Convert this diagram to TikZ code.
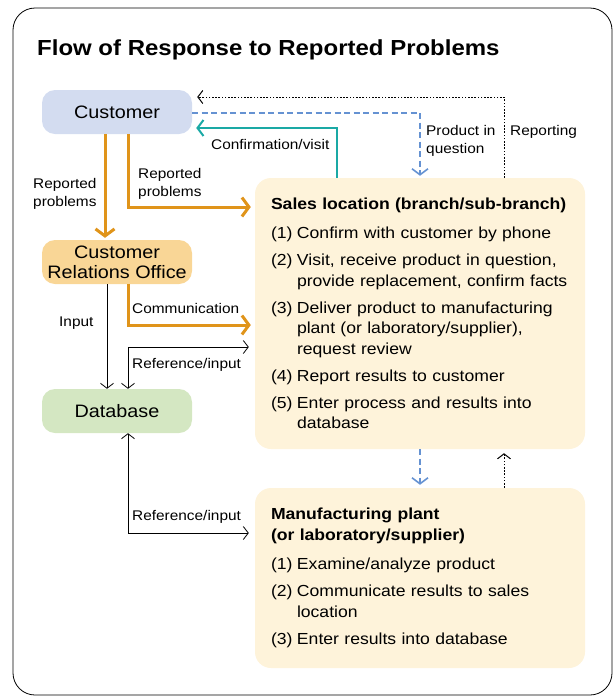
\documentclass[tikz,border=0pt]{standalone}
\usepackage{fontspec}
\setmainfont{Liberation Sans}[FakeStretch=1.1]
\usetikzlibrary{arrows.meta,positioning}
\definecolor{custfill}{HTML}{D3DCF0}
\definecolor{crofill}{HTML}{F9D696}
\definecolor{dbfill}{HTML}{D4E7C2}
\definecolor{boxfill}{HTML}{FEF3DA}
\definecolor{flowor}{HTML}{E0941A}
\definecolor{flowteal}{HTML}{1AA9A5}
\definecolor{flowblue}{HTML}{6592D2}
\newcommand{\numline}[2]{\par\hangindent=26pt\hangafter=1\noindent\makebox[26pt][l]{#1}#2}
\tikzset{
  party/.style={rounded corners=13pt, minimum width=150pt, minimum height=44pt,
    inner sep=0pt, align=center, font=\fontsize{18}{20}\selectfont},
  stepbox/.style={fill=boxfill, rounded corners=16pt, minimum width=330pt,
    text width=298pt, inner xsep=16pt, inner ysep=0pt,
    font=\fontsize{16}{20.5}\selectfont\setlength{\parskip}{6.5pt}\raggedright},
  lbl/.style={anchor=west, align=left, inner sep=0pt, font=\fontsize{14}{18.5}\selectfont},
  orflow/.style={draw=flowor, line width=3pt, -{Straight Barb[length=7pt,width=19pt]}},
  thinflow/.style={line width=0.8pt, -{Straight Barb[length=5pt,width=13pt]}},
  twoflow/.style={line width=0.8pt, {Straight Barb[length=5pt,width=13pt]}-{Straight Barb[length=5pt,width=13pt]}},
  tealflow/.style={draw=flowteal, line width=2pt, -{Straight Barb[length=6pt,width=16pt]}},
  blueflow/.style={draw=flowblue, line width=1.6pt, dash pattern=on 6pt off 3.5pt, -{Straight Barb[length=6pt,width=16pt]}},
  dotflow/.style={line width=1pt, dash pattern=on 1.6pt off 1.6pt, -{Straight Barb[length=5pt,width=13pt]}}
}
\begin{document}
\begin{tikzpicture}[x=1pt, y=-1pt]
  \useasboundingbox (0,0) rectangle (616,697);
  \draw[rounded corners=22pt, line width=0.8pt] (13,8) rectangle (612,695);
  \node (title) [anchor=west, inner sep=0pt, font=\fontsize{21.8}{24}\selectfont\bfseries]
    at (37,50) {Flow of Response to Reported Problems};

  % parties on the left
  \node (cust) [party, fill=custfill] at (117,112) {Customer};
  \node (cro) [party, fill=crofill] at (117,262) {Customer\\Relations Office};
  \node (db) [party, fill=dbfill] at (117,411) {Database};

  % boxes on the right
  \node (sales) [stepbox, minimum height=271pt] at (420,313.5) {%
    {\bfseries Sales location (branch/sub-branch)\par}\vspace{2.5pt}
    \numline{(1)}{Confirm with customer by phone}
    \numline{(2)}{Visit, receive product in question,\newline provide replacement, confirm facts}
    \numline{(3)}{Deliver product to manufacturing\newline plant (or laboratory/supplier),\newline request review}
    \numline{(4)}{Report results to customer}
    \numline{(5)}{Enter process and results into\newline database}\par};
  \node (mfg) [stepbox, minimum height=180pt] at (420,578) {%
    {\bfseries Manufacturing plant\newline (or laboratory/supplier)\par}\vspace{2.5pt}
    \numline{(1)}{Examine/analyze product}
    \numline{(2)}{Communicate results to sales\newline location}
    \numline{(3)}{Enter results into database}\par};

  % connectors
  \draw[orflow, shorten >=2pt] ([xshift=-12pt]cust.south) -- ([xshift=-12pt]cro.north);
  \draw[orflow, shorten >=4pt] ([xshift=11pt]cust.south) |- (sales.west |- 0,207);
  \draw[orflow, shorten >=4pt] ([xshift=11pt]cro.south) |- (sales.west |- 0,325);
  \draw[thinflow] ([xshift=-10pt]cro.south) -- ([xshift=-10pt]db.north);
  \draw[twoflow, shorten >=6pt] ([xshift=11pt]db.north) |- (sales.west |- 0,347);
  \draw[twoflow, shorten >=6pt] ([xshift=11pt]db.south) |- (mfg.west |- 0,533);
  \draw[tealflow, shorten >=4pt] (sales.north -| 337,0) |- (cust.east |- 0,128);
  \draw[blueflow, shorten >=2pt] (cust.east |- 0,113) -| (sales.north -| 420,0);
  \draw[dotflow, shorten >=5pt] (sales.north -| 504,0) |- (cust.east |- 0,97);
  \draw[blueflow, shorten >=3pt] (sales.south -| 420,0) -- (mfg.north -| 420,0);
  \draw[dotflow, shorten >=4pt] (mfg.north -| 504,0) -- (sales.south -| 504,0);

  % connector labels
  \node (lblrepa) [lbl] at (33,194) {Reported\\problems};
  \node (lblrepb) [lbl] at (138,184) {Reported\\problems};
  \node (lblconf) [lbl] at (211,144) {Confirmation/visit};
  \node (lblprod) [lbl] at (426,141) {Product in\\question};
  \node (lblreport) [lbl] at (510,132) {Reporting};
  \node (lblinput) [lbl] at (59,323) {Input};
  \node (lblcomm) [lbl] at (132,308) {Communication};
  \node (lblrefa) [lbl] at (132,365) {Reference/input};
  \node (lblrefb) [lbl] at (132,517) {Reference/input};
\end{tikzpicture}
\end{document}
